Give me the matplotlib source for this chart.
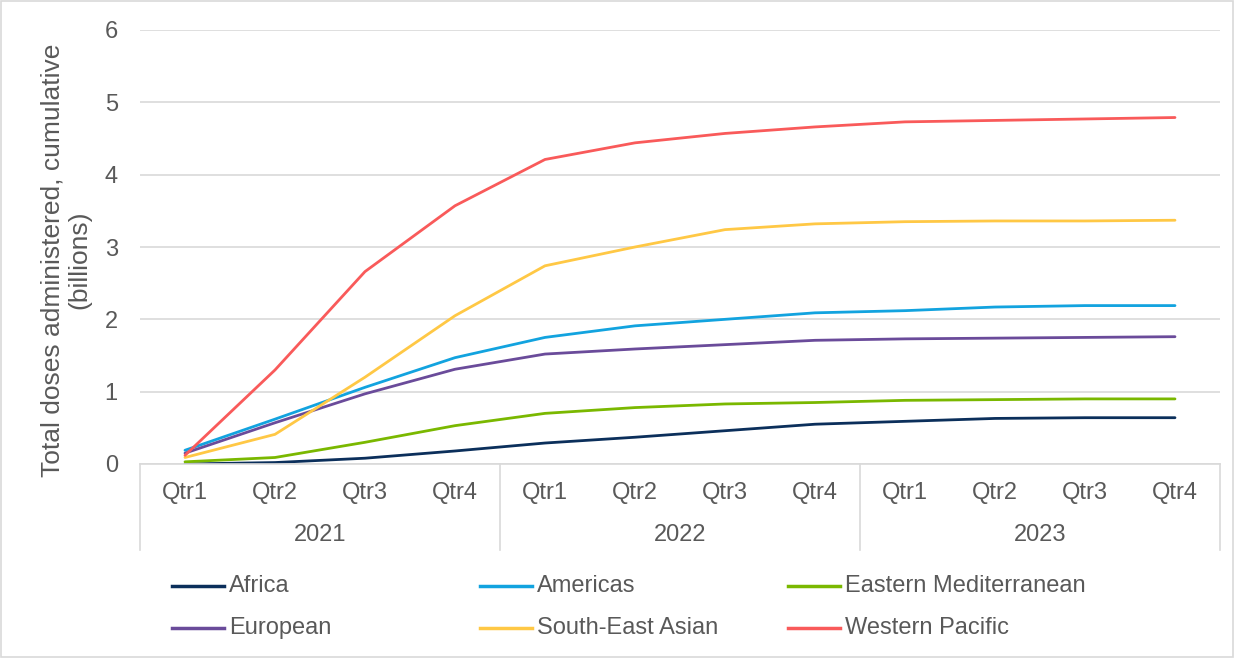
import numpy as np
import matplotlib.pyplot as plt
from matplotlib.patches import Rectangle
from matplotlib.lines import Line2D

plt.rcParams['font.family'] = ['Liberation Sans', 'DejaVu Sans']

# 数据
years = ['2021', '2022', '2023']
quarters = ['Qtr1', 'Qtr2', 'Qtr3', 'Qtr4']
regions = ['Africa', 'Americas', 'Eastern Mediterranean',
           'European', 'South-East Asian', 'Western Pacific']
colors = ['#0B2F5B', '#12A3DF', '#7AB800', '#6A4B9A', '#FFC845', '#F95A5A']

africa = [0.00, 0.02, 0.08, 0.18, 0.29, 0.37, 0.46, 0.55, 0.59, 0.63, 0.64, 0.64]
americas = [0.19, 0.62, 1.06, 1.47, 1.75, 1.91, 2.00, 2.09, 2.12, 2.17, 2.19, 2.19]
east_med = [0.03, 0.09, 0.30, 0.53, 0.70, 0.78, 0.83, 0.85, 0.88, 0.89, 0.90, 0.90]
european = [0.15, 0.57, 0.97, 1.31, 1.52, 1.59, 1.65, 1.71, 1.73, 1.74, 1.75, 1.76]
se_asian = [0.09, 0.41, 1.20, 2.05, 2.74, 3.00, 3.24, 3.32, 3.35, 3.36, 3.36, 3.37]
w_pacific = [0.12, 1.30, 2.66, 3.57, 4.21, 4.44, 4.57, 4.66, 4.73, 4.75, 4.77, 4.79]
series = [africa, americas, east_med, european, se_asian, w_pacific]

txt_color = '#595959'
grid_color = '#D9D9D9'
fs = 17

W, H = 1234, 658
fig = plt.figure(figsize=(W / 100, H / 100), dpi=100)
ax = fig.add_axes([140 / W, 1 - 464 / H, 1080 / W, 434 / H])

x = np.arange(len(years) * len(quarters))
for vals, name, c in zip(series, regions, colors):
    ax.plot(x, vals, color=c, linewidth=2, label=name, solid_capstyle='round')

ax.set_xlim(-0.5, len(x) - 0.5)
ax.set_ylim(0, 6)
ax.set_yticks(range(7))
ax.grid(axis='y', color=grid_color, linewidth=1.2)
ax.set_axisbelow(True)
for s in ['top', 'right', 'left']:
    ax.spines[s].set_visible(False)
ax.spines['bottom'].set_color(grid_color)
ax.spines['bottom'].set_linewidth(1.2)
ax.tick_params(axis='y', length=0, pad=16, labelsize=fs, labelcolor=txt_color)
ax.set_xticks([])

# 多级分类轴
trans = ax.get_xaxis_transform()
for i, q in enumerate(quarters * len(years)):
    ax.text(i, -29 / 434, q, transform=trans, ha='center', va='center',
            fontsize=fs, color=txt_color)
for j, yr in enumerate(years):
    ax.text(j * 4 + 1.5, -71 / 434, yr, transform=trans, ha='center', va='center',
            fontsize=fs, color=txt_color)
for k in range(len(years) + 1):
    ax.add_line(Line2D([k * 4 - 0.5, k * 4 - 0.5], [0, -86 / 434], transform=trans,
                       color=grid_color, linewidth=1.2, clip_on=False))

# y轴标题
fig.text(66 / W, 1 - 260 / H, 'Total doses administered, cumulative\n(billions)',
         rotation=90, ha='center', va='center', fontsize=19, color=txt_color,
         linespacing=1.15)

# 图例 (手动放置, 固定列宽)
for idx, (name, c) in enumerate(zip(regions, colors)):
    col, row = idx % 3, idx // 3
    x0 = 172 + col * 308
    y0 = 586 + row * 42
    fig.add_artist(Line2D([x0 / W, (x0 + 52) / W], [1 - y0 / H, 1 - y0 / H],
                          color=c, linewidth=2.5))
    fig.text((x0 + 57) / W, 1 - y0 / H, name, ha='left', va='center',
             fontsize=fs, color=txt_color)

# 外框
fig.patches.append(Rectangle((0.001, 0.001), 0.998, 0.997, transform=fig.transFigure,
                             fill=False, edgecolor=grid_color, linewidth=1.2))

fig.savefig('out.png', dpi=100)
